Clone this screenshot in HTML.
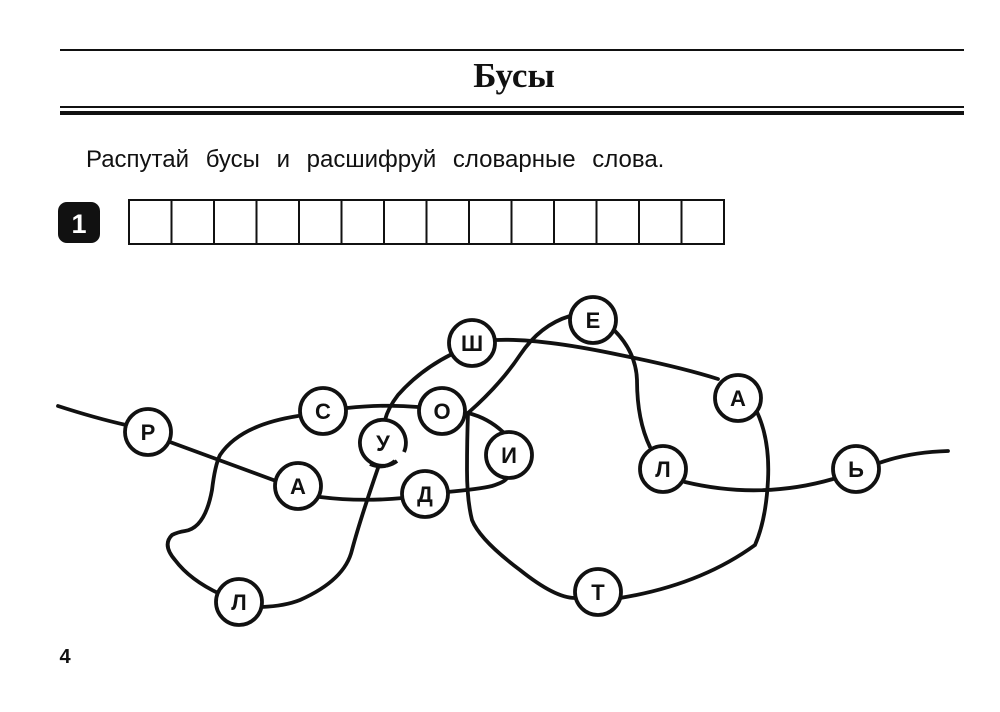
<!DOCTYPE html>
<html><head><meta charset="utf-8"><style>
html,body{margin:0;padding:0;background:#fff;width:1000px;height:712px;overflow:hidden}
svg{display:block}
</style></head><body>
<svg width="1000" height="712" viewBox="0 0 1000 712" xmlns="http://www.w3.org/2000/svg">
<rect width="1000" height="712" fill="#fff"/>
<line x1="60" y1="50" x2="964" y2="50" stroke="#111" stroke-width="2"/>
<text x="514" y="87" text-anchor="middle" font-family="Liberation Serif, serif" font-weight="bold" font-size="35" fill="#111">Бусы</text>
<line x1="60" y1="107" x2="964" y2="107" stroke="#111" stroke-width="2"/>
<line x1="60" y1="113" x2="964" y2="113" stroke="#111" stroke-width="4"/>
<text x="86" y="167" font-family="Liberation Sans, sans-serif" font-size="24" word-spacing="10" fill="#111">Распутай бусы и расшифруй словарные слова.</text>
<rect x="58" y="202" width="42" height="41" rx="9" fill="#111"/>
<text x="79" y="233" text-anchor="middle" font-family="Liberation Sans, sans-serif" font-weight="bold" font-size="27" fill="#fff">1</text>
<g fill="none" stroke="#111" stroke-width="2">
<rect x="129" y="200" width="595" height="44"/>
<path d="M171.5 200V244M214 200V244M256.5 200V244M299 200V244M341.5 200V244M384 200V244M426.5 200V244M469 200V244M511.5 200V244M554 200V244M596.5 200V244M639 200V244M681.5 200V244"/>
</g>
<g fill="none" stroke="#111" stroke-width="3.8" stroke-linecap="round">
<path d="M58 406 Q95 418 126 425"/>
<path d="M170 442 L276 481"/>
<path d="M320 497 Q360 502 403 498"/>
<path d="M447 492 Q480 489 492 486 Q505 482 507 478"/>
<path d="M503 432 Q488 418 468 413"/>
<path d="M468 413 Q500 385 520 355 Q540 325 570 316"/>
<path d="M614 330 Q636 352 637 380 Q637 420 650 447"/>
<path d="M685 482 Q760 500 833 479"/>
<path d="M879 463 Q910 452 948 451"/>
<path d="M496 340 Q540 338 620 355 Q680 367 718 379"/>
<path d="M757 412 Q770 440 768 480 Q766 520 755 545 Q700 585 620 598"/>
<path d="M575 598 Q555 598 520 570 Q480 540 472 520 Q467 500 467 470 Q467 440 468 413"/>
<path d="M452 354 Q420 370 398 395 Q388 408 385 420"/>
<path d="M378 468 Q360 520 352 550 Q345 580 300 600 Q285 606 262 607"/>
<path d="M220 594 Q190 580 175 560 Q162 545 172 535 Q178 532 185 531 Q205 528 212 490 Q215 465 220 455 Q240 425 298 416"/>
<path d="M347 408 Q385 404 418 407"/>
</g>
<g fill="#fff" stroke="#111" stroke-width="3.8">
<circle cx="148" cy="432" r="23"/>
<circle cx="323" cy="411" r="23"/>
<circle cx="298" cy="486" r="23"/>
<circle cx="442" cy="411" r="23"/>
<circle cx="472" cy="343" r="23"/>
<circle cx="593" cy="320" r="23"/>
<circle cx="509" cy="455" r="23"/>
<circle cx="425" cy="494" r="23"/>
<circle cx="738" cy="398" r="23"/>
<circle cx="663" cy="469" r="23"/>
<circle cx="856" cy="469" r="23"/>
<circle cx="598" cy="592" r="23"/>
<circle cx="239" cy="602" r="23"/>
</g>
<path d="M397 461 A23 23 0 1 1 404 452" fill="#fff" stroke="#111" stroke-width="3.8"/>
<path d="M370 464 Q384 470 395 461" fill="none" stroke="#111" stroke-width="3.8"/>
<g font-family="Liberation Sans, sans-serif" font-weight="bold" font-size="22" text-anchor="middle" fill="#111">
<text x="148" y="440">Р</text>
<text x="323" y="419">С</text>
<text x="298" y="494">А</text>
<text x="383" y="451">У</text>
<text x="442" y="419">О</text>
<text x="472" y="351">Ш</text>
<text x="593" y="328">Е</text>
<text x="509" y="463">И</text>
<text x="425" y="502">Д</text>
<text x="738" y="406">А</text>
<text x="663" y="477">Л</text>
<text x="856" y="477">Ь</text>
<text x="598" y="600">Т</text>
<text x="239" y="610">Л</text>
</g>
<text x="65" y="663" text-anchor="middle" font-family="Liberation Sans, sans-serif" font-weight="bold" font-size="20" fill="#111">4</text>
</svg>
</body></html>
